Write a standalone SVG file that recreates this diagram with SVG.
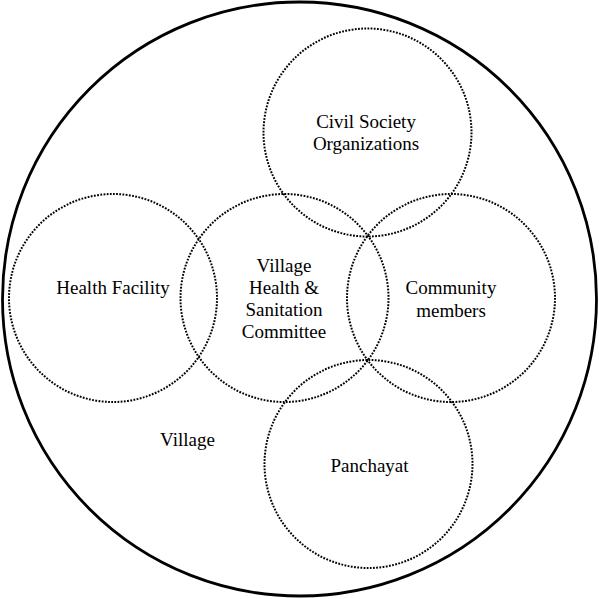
<svg xmlns="http://www.w3.org/2000/svg" width="599" height="599" viewBox="0 0 599 599">
<style>
.dot{fill:none;stroke:#000;stroke-width:2;stroke-dasharray:1.8 1.4}
.lbl{font-family:"Liberation Serif","Times New Roman","DejaVu Serif",serif;font-size:19px;fill:#000;text-anchor:middle}
</style>
<rect width="599" height="599" fill="#fff"/>
<g id="village">
<circle cx="299.5" cy="299" r="297" fill="none" stroke="#000" stroke-width="2.8"/>
<text class="lbl" x="187.5" y="446">Village</text>
</g>
<g id="civil-society">
<circle class="dot" cx="367.5" cy="132.5" r="104"/>
<text class="lbl" x="366" y="128">Civil Society</text>
<text class="lbl" x="366" y="150">Organizations</text>
</g>
<g id="health-facility">
<circle class="dot" cx="113" cy="298" r="104"/>
<text class="lbl" x="113" y="293.5">Health Facility</text>
</g>
<g id="vhsc">
<circle class="dot" cx="284.5" cy="298" r="104"/>
<text class="lbl" x="284" y="271.5">Village</text>
<text class="lbl" x="284" y="293.5">Health &amp;</text>
<text class="lbl" x="284" y="316">Sanitation</text>
<text class="lbl" x="284" y="338">Committee</text>
</g>
<g id="community">
<circle class="dot" cx="451" cy="298" r="104"/>
<text class="lbl" x="451" y="293.5">Community</text>
<text class="lbl" x="451" y="316.5">members</text>
</g>
<g id="panchayat">
<circle class="dot" cx="368.5" cy="464" r="104"/>
<text class="lbl" x="369.5" y="471.5">Panchayat</text>
</g>
<g id="connectors"/>
</svg>
